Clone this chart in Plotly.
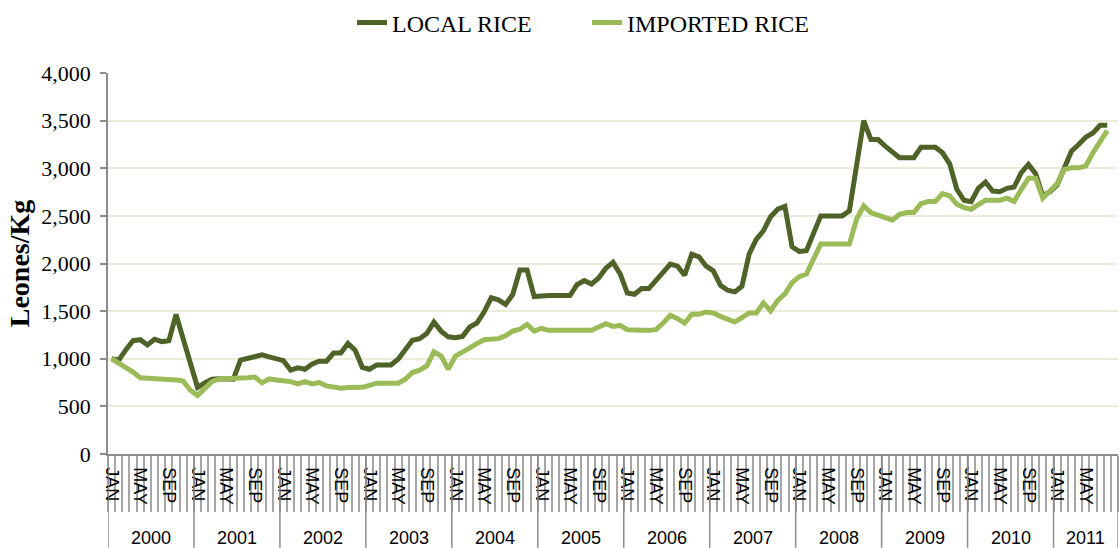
import plotly.graph_objects as go

# ---- data ----
years = [2000, 2001, 2002, 2003, 2004, 2005, 2006, 2007, 2008, 2009, 2010, 2011]
months = ["JAN", "FEB", "MAR", "APR", "MAY", "JUN", "JUL", "AUG", "SEP", "OCT", "NOV", "DEC"]
months_in_last_year = 9
shown_months = ["JAN", "MAY", "SEP"]

local_rice = [
    1000, 985, 1095, 1190, 1200, 1145, 1205, 1180, 1190, 1465, 1207, 950,      # 2000
    700, 745, 785, 790, 785, 785, 985, 1000, 1020, 1040, 1020, 1000,            # 2001
    980, 880, 905, 890, 945, 975, 975, 1060, 1060, 1160, 1090, 910,             # 2002
    890, 935, 935, 935, 995, 1090, 1195, 1210, 1265, 1385, 1290, 1230,          # 2003
    1221, 1235, 1333, 1375, 1490, 1640, 1618, 1570, 1674, 1932, 1932, 1653,     # 2004
    1664, 1664, 1664, 1664, 1664, 1780, 1820, 1785, 1848, 1950, 2012, 1890,     # 2005
    1690, 1677, 1737, 1737, 1817, 1895, 1993, 1972, 1877, 2098, 2070, 1972,     # 2006
    1923, 1772, 1719, 1702, 1761, 2098, 2253, 2344, 2490, 2570, 2600, 2175,     # 2007
    2127, 2134, 2326, 2500, 2500, 2500, 2500, 2552, 3040, 3500, 3301, 3301,     # 2008
    3232, 3172, 3110, 3110, 3110, 3221, 3221, 3221, 3162, 3047, 2779, 2664,     # 2009
    2650, 2789, 2855, 2761, 2754, 2789, 2803, 2953, 3040, 2942, 2709, 2754,     # 2010
    2824, 3005, 3179, 3249, 3326, 3371, 3451, 3451, None,                       # 2011
]

imported_rice = [
    1000, 960, 908, 860, 800, 795, 792, 790, 785, 778, 765, 670,                # 2000
    615, 692, 760, 788, 795, 795, 798, 800, 808, 747, 788, 778,                 # 2001
    770, 760, 735, 760, 735, 750, 715, 700, 690, 698, 700, 700,                 # 2002
    720, 743, 743, 743, 743, 785, 855, 880, 925, 1073, 1028, 890,               # 2003
    1028, 1070, 1120, 1159, 1200, 1211, 1211, 1242, 1290, 1310, 1360, 1290,     # 2004
    1320, 1298, 1298, 1298, 1298, 1298, 1298, 1298, 1333, 1368, 1340, 1350,     # 2005
    1305, 1298, 1298, 1298, 1305, 1375, 1456, 1421, 1375, 1466, 1466, 1491,     # 2006
    1480, 1445, 1410, 1386, 1431, 1480, 1480, 1586, 1502, 1612, 1681, 1800,     # 2007
    1862, 1890, 2047, 2204, 2204, 2204, 2204, 2204, 2465, 2605, 2535, 2510,     # 2008
    2483, 2455, 2517, 2535, 2535, 2629, 2650, 2650, 2733, 2709, 2622, 2587,     # 2009
    2570, 2622, 2664, 2664, 2664, 2685, 2650, 2779, 2894, 2894, 2685, 2761,     # 2010
    2838, 2988, 3005, 3005, 3023, 3162, 3277, 3395, None,                       # 2011
]

# ---- build category positions ----
cat_year, cat_month = [], []
for y in years:
    n = months_in_last_year if y == years[-1] else 12
    for m in months[:n]:
        cat_year.append(y)
        cat_month.append(m)
idx = list(range(len(cat_month)))

tickvals = [i for i in idx if cat_month[i] in shown_months]
ticktext = [cat_month[i] for i in tickvals]

DARK = "#4F6228"
LIGHT = "#9BBB59"
AXIS = "#8C8C8C"
SERIF = "Liberation Serif"
SANS = "Liberation Sans"

fig = go.Figure()
fig.add_trace(go.Scatter(x=idx, y=local_rice, mode="lines", name="LOCAL RICE",
                         line=dict(color=DARK, width=5), connectgaps=False))
fig.add_trace(go.Scatter(x=idx, y=imported_rice, mode="lines", name="IMPORTED RICE",
                         line=dict(color=LIGHT, width=5), connectgaps=False))

# year separators and labels
plot_h = 548 - 72 - 94
bottom_frac = -94 / plot_h
shapes, annotations = [], []
start = 0
for y in years:
    n = sum(1 for cy in cat_year if cy == y)
    shapes.append(dict(type="line", xref="x", yref="paper", x0=start - 0.5, x1=start - 0.5,
                       y0=0, y1=bottom_frac, line=dict(color=AXIS, width=1.5)))
    annotations.append(dict(x=start + (n - 1) / 2, y=(454 - 538) / plot_h, xref="x", yref="paper",
                            text=str(y), showarrow=False, yanchor="middle",
                            font=dict(family=SANS, size=18, color="#000")))
    start += n
shapes.append(dict(type="line", xref="x", yref="paper", x0=start - 0.5, x1=start - 0.5,
                   y0=0, y1=bottom_frac, line=dict(color=AXIS, width=1.5)))

fig.update_layout(
    width=1120, height=548,
    margin=dict(l=108, r=2, t=72, b=94),
    paper_bgcolor="white", plot_bgcolor="white",
    showlegend=True,
    legend=dict(orientation="h", x=(352 - 108) / 1010, xanchor="left",
                y=1 + 71.5 / plot_h, yanchor="top",
                font=dict(family=SERIF, size=24, color="#000"),
                entrywidth=190, bgcolor="rgba(0,0,0,0)", borderwidth=0),
    shapes=shapes, annotations=annotations,
    hovermode=False,
)

fig.update_xaxes(range=[-0.5, len(idx) - 0.5], showgrid=False, zeroline=False,
                 showline=True, linecolor=AXIS, linewidth=1.5, automargin=False,
                 tickmode="array", tickvals=tickvals, ticktext=ticktext,
                 tickangle=90, ticks="", ticklabelstandoff=8,
                 tickfont=dict(family=SANS, size=18, color="#000"),
                 minor=dict(tick0=-0.5, dtick=1, ticks="outside", ticklen=56,
                            tickcolor="#A6A6A6", tickwidth=1.5, showgrid=False))

fig.update_yaxes(range=[0, 4000], dtick=500, tickformat=",", showgrid=True,
                 gridcolor="#EBEDDA", gridwidth=2, zeroline=False,
                 showline=True, linecolor=AXIS, linewidth=1.5, automargin=False,
                 ticks="outside", ticklen=6, tickcolor=AXIS, tickwidth=1.5,
                 ticklabelstandoff=5,
                 tickfont=dict(family=SERIF, size=22, color="#000"),
                 title=dict(text="<b>Leones/Kg</b>", standoff=4,
                            font=dict(family=SERIF, size=28, color="#000")))

fig.write_html("out.html", config={"displayModeBar": False},
               post_script="document.body.style.margin='0';document.body.style.padding='0';")
